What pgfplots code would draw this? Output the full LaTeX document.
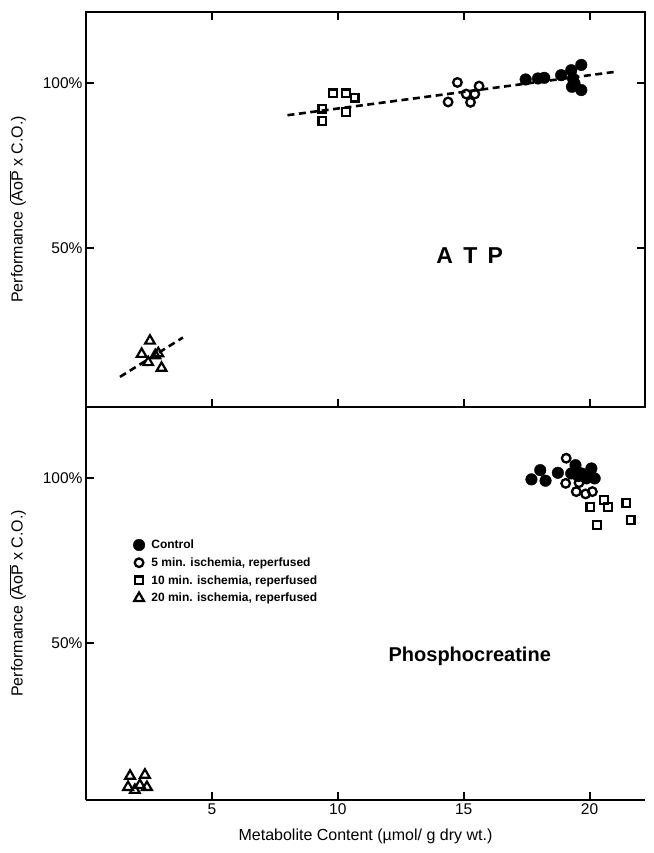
\documentclass[border=0pt]{standalone}
\usepackage{fontspec}
\setmainfont{Liberation Sans}
\usepackage{pgfplots}
\pgfplotsset{compat=1.18}

\pgfplotsset{
  panel/.style={
    scale only axis, width=559pt,
    xmin=0, xmax=22.2,
    xtick={5,10,15,20},
    ytick={50,100}, yticklabels={50\%,100\%},
    tick align=inside, major tick length=8pt,
    tick style={line width=1.8pt, black},
    axis line style={line width=2.2pt, -},
    every axis plot/.append style={black},
    tick label style={font=\fontsize{15.5}{17}\selectfont},
    ylabel style={font=\fontsize{16}{18}\selectfont},
    ylabel shift=10pt,
    /pgf/number format/assume math mode=true,
    clip=false,
  },
  ctrl/.style={only marks, mark=*, mark size=5.8pt, mark options={fill=black, draw=black}},
  five/.style={only marks, mark=o, mark size=4.3pt, mark options={line width=2.3pt, fill=white}},
  ten/.style={only marks, mark=square, mark size=3.9pt, mark options={line width=2.2pt, fill=white}},
  twenty/.style={only marks, mark=triangle, mark size=5.6pt, mark options={line width=2.2pt, fill=white}},
  fit/.style={no marks, line width=2.6pt, dash pattern=on 7pt off 4.5pt},
}

\begin{document}
\begin{tikzpicture}
% ATP panel
\begin{axis}[panel, name=top, height=395pt,
  ymin=2, ymax=121.4, xticklabels={},
  ylabel={Performance ($\overline{\mbox{AoP}}$ x C.O.)}]
\addplot[fit] coordinates {(8.0,90.2) (21.0,103.3)};
\addplot[fit] coordinates {(1.35,11.1) (3.85,23.0)};
\addplot[ten] coordinates {(9.81,96.8) (10.32,96.8) (10.67,95.5) (9.39,92.2) (10.32,91.2) (9.39,88.4)};
\addplot[five] coordinates {(14.75,100.1) (14.38,94.2) (15.1,96.6) (15.27,94.1) (15.44,96.6) (15.61,99.0)};
\addplot[ctrl] coordinates {(17.46,101.0) (17.95,101.3) (18.2,101.5) (18.87,102.3) (19.27,103.8)
  (19.67,105.4) (19.34,101.3) (19.4,99.8) (19.67,97.8) (19.3,98.8)};
\addplot[twenty] coordinates {(2.54,22.0) (2.21,18.0) (2.87,18.2) (2.47,15.5) (3.0,13.8) (2.75,17.6)};
\node[font=\bfseries\fontsize{23}{25}\selectfont] at (axis cs:15.24,47.8) {A\hspace{0.45em}T\hspace{0.45em}P};
\end{axis}
% Phosphocreatine panel
\begin{axis}[panel, name=bot, at={(top.south west)}, anchor=north west, height=393pt,
  ymin=2.5, ymax=121.4,
  axis x line*=bottom, axis y line*=left,
  xlabel={Metabolite Content (µmol/ g dry wt.)},
  xlabel style={font=\fontsize{16}{18}\selectfont, yshift=-8pt},
  ylabel={Performance ($\overline{\mbox{AoP}}$ x C.O.)},
  legend style={draw=none, fill=none, at={(axis cs:1.75,82.3)}, anchor=north west,
    font=\bfseries\fontsize{12}{14}\selectfont, row sep=4.5pt,
    nodes={inner xsep=6.5pt, inner ysep=1.5pt}},
  legend cell align=left]
\addplot[ctrl] coordinates {(17.69,99.5) (18.04,102.3) (18.25,99.1) (18.74,101.5) (19.44,103.8)
  (19.27,101.3) (19.67,101.3) (20.07,102.8) (20.2,99.8) (19.87,99.8) (19.55,100.5)};
\addlegendentry{Control}
\addplot[five] coordinates {(19.07,105.9) (19.05,98.3) (19.47,95.8) (19.84,95.1) (20.11,95.8) (19.58,98.5)};
\addlegendentry{5 min. ischemia, reperfused}
\addplot[ten] coordinates {(20.03,91.2) (20.56,93.3) (20.73,91.2) (21.46,92.4) (20.29,85.7) (21.63,87.2)};
\addlegendentry{10 min. ischemia, reperfused}
\addplot[twenty] coordinates {(1.75,9.8) (2.34,10.1) (1.67,6.4) (2.14,7.0) (1.94,5.5) (2.42,6.4)};
\addlegendentry{20 min. ischemia, reperfused}
\node[font=\bfseries\fontsize{20}{22}\selectfont, anchor=base] at (axis cs:15.24,44.3) {Phosphocreatine};
\end{axis}
\useasboundingbox ([xshift=-86pt, yshift=-53pt]bot.south west) rectangle ([xshift=8pt, yshift=12pt]top.north east);
\end{tikzpicture}
\end{document}
